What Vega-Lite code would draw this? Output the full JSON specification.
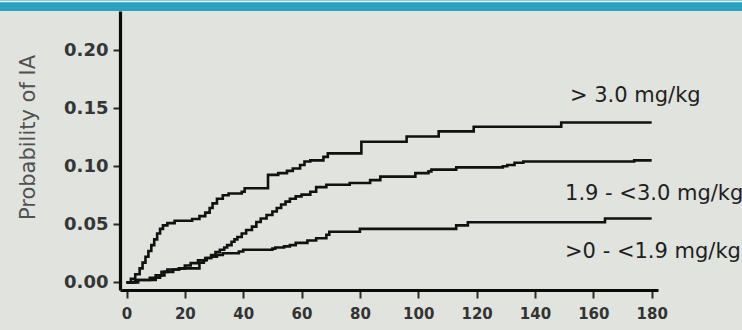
{
  "$schema": "https://vega.github.io/schema/vega-lite/v6.json",
  "width": 538,
  "height": 279,
  "autosize": {"type": "none"},
  "padding": {"left": 120, "top": 11, "right": 84, "bottom": 40},
  "background": "#e1e3de",
  "config": {"view": {"stroke": null}, "font": "DejaVu Sans"},
  "datasets": {
    "curves": [
      {"g": "high", "t": 0, "p": 0}, {"g": "high", "t": 1.5, "p": 0.003}, {"g": "high", "t": 3, "p": 0.007}, {"g": "high", "t": 4.5, "p": 0.012},
      {"g": "high", "t": 5.5, "p": 0.017}, {"g": "high", "t": 6.5, "p": 0.022}, {"g": "high", "t": 7.5, "p": 0.027}, {"g": "high", "t": 8.5, "p": 0.032},
      {"g": "high", "t": 9.5, "p": 0.037}, {"g": "high", "t": 10.5, "p": 0.042}, {"g": "high", "t": 11.5, "p": 0.046}, {"g": "high", "t": 12.5, "p": 0.049},
      {"g": "high", "t": 14, "p": 0.051}, {"g": "high", "t": 16.5, "p": 0.053}, {"g": "high", "t": 22.5, "p": 0.0545}, {"g": "high", "t": 25, "p": 0.057},
      {"g": "high", "t": 27, "p": 0.06}, {"g": "high", "t": 28.5, "p": 0.064}, {"g": "high", "t": 29.5, "p": 0.068}, {"g": "high", "t": 31, "p": 0.072},
      {"g": "high", "t": 33, "p": 0.075}, {"g": "high", "t": 35, "p": 0.0765}, {"g": "high", "t": 39.5, "p": 0.078}, {"g": "high", "t": 40.5, "p": 0.081},
      {"g": "high", "t": 48.5, "p": 0.0925}, {"g": "high", "t": 52, "p": 0.094}, {"g": "high", "t": 55, "p": 0.096}, {"g": "high", "t": 57, "p": 0.098},
      {"g": "high", "t": 59.5, "p": 0.101}, {"g": "high", "t": 61, "p": 0.104}, {"g": "high", "t": 63, "p": 0.105}, {"g": "high", "t": 67.5, "p": 0.108},
      {"g": "high", "t": 69, "p": 0.111}, {"g": "high", "t": 80.5, "p": 0.121}, {"g": "high", "t": 96, "p": 0.1255}, {"g": "high", "t": 107, "p": 0.13},
      {"g": "high", "t": 119, "p": 0.134}, {"g": "high", "t": 149, "p": 0.1376}, {"g": "high", "t": 180, "p": 0.1376},

      {"g": "mid", "t": 0, "p": 0}, {"g": "mid", "t": 3, "p": 0.002}, {"g": "mid", "t": 10, "p": 0.004}, {"g": "mid", "t": 11.5, "p": 0.006},
      {"g": "mid", "t": 13, "p": 0.009}, {"g": "mid", "t": 16, "p": 0.011}, {"g": "mid", "t": 18, "p": 0.012}, {"g": "mid", "t": 25, "p": 0.017},
      {"g": "mid", "t": 26.5, "p": 0.019}, {"g": "mid", "t": 27.5, "p": 0.021}, {"g": "mid", "t": 29, "p": 0.0235}, {"g": "mid", "t": 30.5, "p": 0.026},
      {"g": "mid", "t": 32, "p": 0.028}, {"g": "mid", "t": 33.5, "p": 0.03}, {"g": "mid", "t": 34.5, "p": 0.032}, {"g": "mid", "t": 36, "p": 0.035},
      {"g": "mid", "t": 37, "p": 0.037}, {"g": "mid", "t": 38, "p": 0.039}, {"g": "mid", "t": 39.5, "p": 0.042}, {"g": "mid", "t": 41, "p": 0.045},
      {"g": "mid", "t": 43, "p": 0.048}, {"g": "mid", "t": 44.5, "p": 0.052}, {"g": "mid", "t": 46, "p": 0.055}, {"g": "mid", "t": 48, "p": 0.058},
      {"g": "mid", "t": 50, "p": 0.061}, {"g": "mid", "t": 51.5, "p": 0.064}, {"g": "mid", "t": 53, "p": 0.067}, {"g": "mid", "t": 54.5, "p": 0.0695},
      {"g": "mid", "t": 56, "p": 0.072}, {"g": "mid", "t": 58, "p": 0.074}, {"g": "mid", "t": 60, "p": 0.0755}, {"g": "mid", "t": 63, "p": 0.078},
      {"g": "mid", "t": 65, "p": 0.082}, {"g": "mid", "t": 68.5, "p": 0.084}, {"g": "mid", "t": 76.5, "p": 0.0855}, {"g": "mid", "t": 83.5, "p": 0.088},
      {"g": "mid", "t": 87, "p": 0.091}, {"g": "mid", "t": 99, "p": 0.094}, {"g": "mid", "t": 103.5, "p": 0.0955}, {"g": "mid", "t": 104.5, "p": 0.097},
      {"g": "mid", "t": 113, "p": 0.099}, {"g": "mid", "t": 129, "p": 0.1}, {"g": "mid", "t": 130.5, "p": 0.101}, {"g": "mid", "t": 133, "p": 0.103},
      {"g": "mid", "t": 136, "p": 0.104}, {"g": "mid", "t": 174, "p": 0.105}, {"g": "mid", "t": 180, "p": 0.105},

      {"g": "low", "t": 0, "p": 0}, {"g": "low", "t": 4, "p": 0.002}, {"g": "low", "t": 8, "p": 0.004}, {"g": "low", "t": 10, "p": 0.006},
      {"g": "low", "t": 12, "p": 0.009}, {"g": "low", "t": 14, "p": 0.011}, {"g": "low", "t": 18, "p": 0.012}, {"g": "low", "t": 20, "p": 0.0145},
      {"g": "low", "t": 22, "p": 0.0165}, {"g": "low", "t": 24.5, "p": 0.019}, {"g": "low", "t": 27, "p": 0.021}, {"g": "low", "t": 29, "p": 0.022},
      {"g": "low", "t": 31, "p": 0.0235}, {"g": "low", "t": 33, "p": 0.025}, {"g": "low", "t": 38.5, "p": 0.0265}, {"g": "low", "t": 40, "p": 0.028},
      {"g": "low", "t": 50, "p": 0.029}, {"g": "low", "t": 51, "p": 0.03}, {"g": "low", "t": 54, "p": 0.031}, {"g": "low", "t": 56, "p": 0.032},
      {"g": "low", "t": 58, "p": 0.034}, {"g": "low", "t": 62, "p": 0.036}, {"g": "low", "t": 65, "p": 0.038}, {"g": "low", "t": 68.5, "p": 0.041},
      {"g": "low", "t": 69.5, "p": 0.0436}, {"g": "low", "t": 80, "p": 0.046}, {"g": "low", "t": 113, "p": 0.049}, {"g": "low", "t": 117, "p": 0.0517},
      {"g": "low", "t": 164, "p": 0.055}, {"g": "low", "t": 180, "p": 0.055}
    ],
    "labels": [
      {"label": "> 3.0 mg/kg", "t": 152, "p": 0.1552},
      {"label": "1.9 - <3.0 mg/kg", "t": 150.3, "p": 0.0709},
      {"label": ">0 - <1.9 mg/kg", "t": 150.3, "p": 0.0209}
    ]
  },
  "layer": [
    {
      "data": {"values": [{}]},
      "mark": {"type": "rect", "color": "#2aa1c1", "clip": false},
      "encoding": {
        "x": {"datum": -60, "type": "quantitative", "title": null},
        "x2": {"datum": 240},
        "y": {"datum": 0.2336, "type": "quantitative", "title": "Probability of IA"},
        "y2": {"datum": 0.2440}
      }
    },
    {
      "data": {"values": [{}]},
      "mark": {"type": "rule", "color": "#e9f3f5", "strokeWidth": 1.6, "clip": false},
      "encoding": {
        "x": {"datum": -60, "type": "quantitative", "title": null},
        "x2": {"datum": 240},
        "y": {"datum": 0.2419, "type": "quantitative", "title": "Probability of IA"}
      }
    },
    {
      "data": {"name": "curves"},
      "mark": {"type": "line", "interpolate": "step-after", "color": "#111111", "strokeWidth": 2.6},
      "encoding": {
        "x": {
          "field": "t", "type": "quantitative", "title": null,
          "scale": {"domain": [-2.23, 182.17], "nice": false, "zero": false},
          "axis": {
            "values": [0, 20, 40, 60, 80, 100, 120, 140, 160, 180],
            "grid": false, "domainColor": "#0a0a0a", "domainWidth": 3.2,
            "tickColor": "#2a2a2a", "tickWidth": 2, "tickSize": 8,
            "labelFont": "DejaVu Sans", "labelFontWeight": "bold", "labelFontSize": 15,
            "labelColor": "#333333", "labelPadding": 8
          }
        },
        "y": {
          "field": "p", "type": "quantitative", "title": "Probability of IA",
          "scale": {"domain": [-0.0066, 0.2336], "nice": false, "zero": false},
          "axis": {
            "values": [0, 0.05, 0.1, 0.15, 0.2], "format": ".2f",
            "grid": false, "domainColor": "#0a0a0a", "domainWidth": 3.2,
            "tickColor": "#2a2a2a", "tickWidth": 2, "tickSize": 7,
            "labelFont": "DejaVu Sans", "labelFontWeight": "bold", "labelFontSize": 18,
            "labelColor": "#353535", "labelPadding": 5,
            "titleFont": "DejaVu Sans", "titleFontWeight": "normal", "titleFontSize": 21,
            "titleColor": "#505050", "titleX": -92, "titleY": 126, "titleBaseline": "middle", "titleAlign": "center", "titleAngle": -90
          }
        },
        "detail": {"field": "g"}
      }
    },
    {
      "data": {"name": "labels"},
      "mark": {"type": "text", "align": "left", "baseline": "alphabetic", "fontSize": 21, "font": "DejaVu Sans", "color": "#1e1e1e"},
      "encoding": {
        "x": {"field": "t", "type": "quantitative", "title": null},
        "y": {"field": "p", "type": "quantitative", "title": "Probability of IA"},
        "text": {"field": "label"}
      }
    }
  ]
}
